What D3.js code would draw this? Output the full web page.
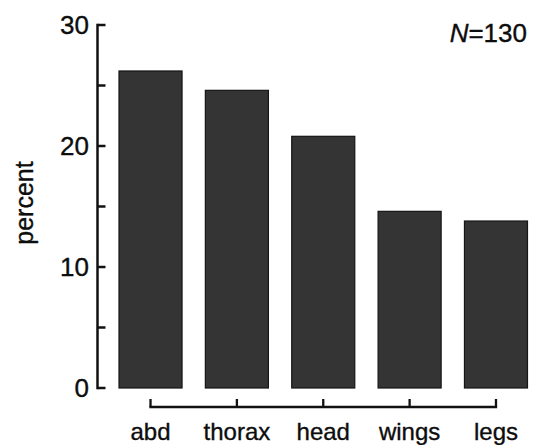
<!DOCTYPE html>
<html>
<head>
<meta charset="utf-8">
<script src="https://cdn.jsdelivr.net/npm/d3@7"></script>
<style>
  html, body { margin: 0; padding: 0; background: #fff; }
  svg { display: block; font-family: "Liberation Sans", Arial, Helvetica, sans-serif; }
  svg text { fill: #0d0d0d; stroke: #0d0d0d; stroke-width: 0.35px; }
</style>
</head>
<body>
<svg id="chart" width="539" height="445"></svg>
<script>
// Body region of damage, share of 130 cases
const categories = ["abd", "thorax", "head", "wings", "legs"];
const percents = [26.2, 24.6, 20.8, 14.6, 13.8];
const yTicks = [0, 5, 10, 15, 20, 25, 30];
const yTickLabels = [0, 10, 20, 30];
const sampleLabel = "=130";

const svg = d3.select("#chart");

const x = d3.scaleBand()
  .domain(categories)
  .range([119, 527.5])
  .paddingInner(0.27)
  .paddingOuter(0);

const y = d3.scaleLinear()
  .domain([0, 30])
  .range([388, 25]);

// Bars
svg.append("g")
  .selectAll("rect")
  .data(categories)
  .join("rect")
  .attr("x", d => x(d))
  .attr("width", x.bandwidth())
  .attr("y", (d, i) => y(percents[i]))
  .attr("height", (d, i) => y(0) - y(percents[i]))
  .attr("fill", "#343434")
  .attr("stroke", "#151515")
  .attr("stroke-width", 1.2);

// Y axis: vertical line with inward ticks
const axisX = 97.5;
const yAxis = svg.append("g").attr("stroke", "#111").attr("stroke-width", 2.5);
yAxis.append("line")
  .attr("x1", axisX).attr("x2", axisX)
  .attr("y1", y(30) - 1.25).attr("y2", y(0) + 1.25);
yAxis.selectAll("line.tick")
  .data(yTicks)
  .join("line")
  .attr("class", "tick")
  .attr("x1", axisX).attr("x2", axisX + 8)
  .attr("y1", d => y(d)).attr("y2", d => y(d));

svg.append("g")
  .selectAll("text")
  .data(yTickLabels)
  .join("text")
  .attr("x", 89)
  .attr("y", d => y(d))
  .attr("dy", "0.36em")
  .attr("text-anchor", "end")
  .attr("font-size", 26)
  .text(d => d);

// Y axis title
svg.append("text")
  .attr("transform", "translate(33,203) rotate(-90)")
  .attr("text-anchor", "middle")
  .attr("font-size", 25)
  .text("percent");

// Category axis: bracket line spanning bar centres with upward ticks
const baseY = 407;
const centers = categories.map(c => x(c) + x.bandwidth() / 2);
const xAxis = svg.append("g").attr("stroke", "#111").attr("stroke-width", 2.3);
xAxis.append("line")
  .attr("x1", centers[0] - 1.15).attr("x2", centers[centers.length - 1] + 1.15)
  .attr("y1", baseY).attr("y2", baseY);
xAxis.selectAll("line.tick")
  .data(centers)
  .join("line")
  .attr("class", "tick")
  .attr("x1", d => d).attr("x2", d => d)
  .attr("y1", baseY).attr("y2", baseY - 8);

svg.append("g")
  .selectAll("text")
  .data(categories)
  .join("text")
  .attr("x", d => x(d) + x.bandwidth() / 2)
  .attr("y", 440)
  .attr("text-anchor", "middle")
  .attr("font-size", 24)
  .text(d => d);

// Sample size annotation
const nText = svg.append("text")
  .attr("x", 527)
  .attr("y", 41.5)
  .attr("text-anchor", "end")
  .attr("font-size", 26);
nText.append("tspan").attr("font-style", "italic").text("N");
nText.append("tspan").text(sampleLabel);
</script>
</body>
</html>
